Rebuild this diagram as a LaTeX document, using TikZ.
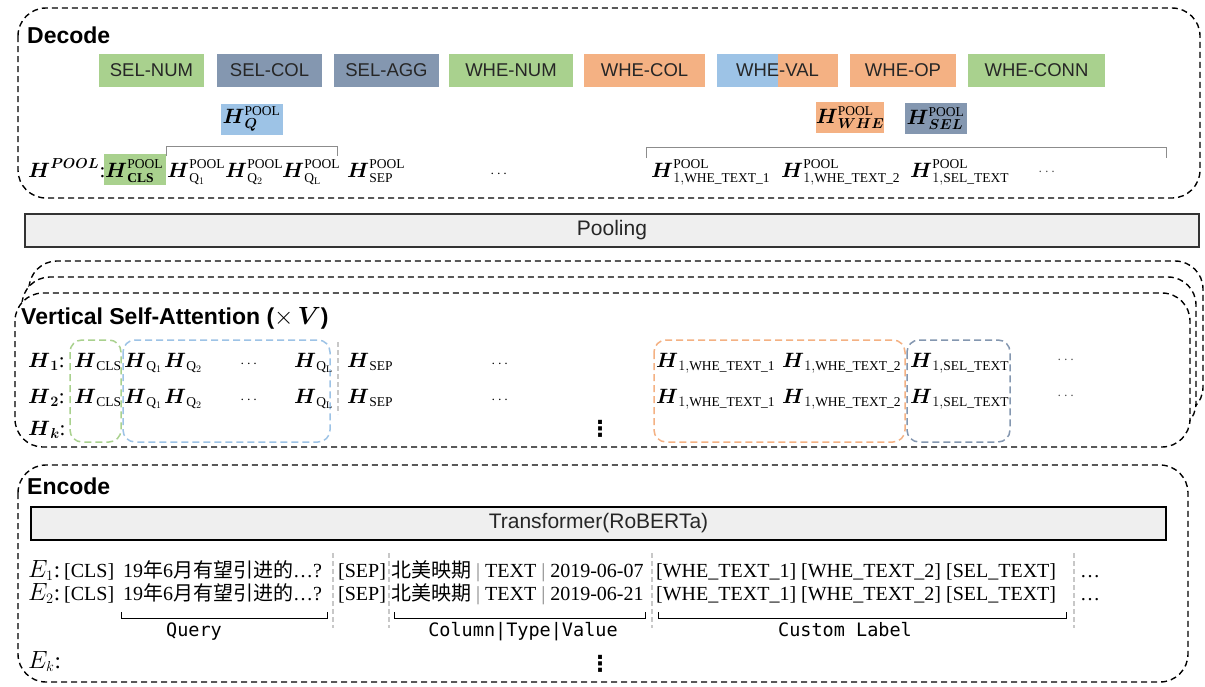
\documentclass[tikz,border=0pt]{standalone}
\usepackage{amsmath}
\usepackage{fontspec}
\setmainfont{Liberation Serif}
\newfontfamily\sansf{Liberation Sans}
\newfontfamily\monof{DejaVu Sans Mono}
\newfontfamily\dejavu{DejaVu Sans}
\newfontfamily\cjkf{Noto Sans CJK SC}
\DeclareMathSizes{21}{21}{13.5}{10}
\DeclareMathSizes{20}{20}{14}{10}
\DeclareMathSizes{23}{23}{15}{11}
\definecolor{grn}{HTML}{A9D18E}
\definecolor{slate}{HTML}{8497B0}
\definecolor{org}{HTML}{F4B183}
\definecolor{lblue}{HTML}{9DC3E6}
\definecolor{sepgray}{HTML}{C8C8C8}
\definecolor{barfill}{HTML}{EFEFEF}
\definecolor{txtdark}{HTML}{262626}
\definecolor{brkgray}{HTML}{8C8C8C}
\newcommand{\myH}{\boldsymbol{H}}
\begin{document}
\begin{tikzpicture}[x=1pt,y=-1pt,
 outerbox/.style={draw=black,line width=1.4pt,dash pattern=on 6pt off 4pt,rounded corners=28pt,fill=white},
 barbox/.style={draw=black!80,line width=1.6pt,fill=barfill,inner sep=0pt,font=\sansf\fontsize{21}{24}\selectfont,text=txtdark},
 seclabel/.style={anchor=west,inner sep=0pt,font=\sansf\bfseries\fontsize{23}{26}\selectfont},
 tag/.style={inner sep=0pt,minimum height=33pt,font=\sansf\fontsize{18.5}{22}\selectfont,text=txtdark},
 poolbox/.style={inner sep=0pt,minimum width=62pt,minimum height=31pt,font=\fontsize{21}{24}\selectfont},
 mtxt/.style={inner sep=0pt,anchor=base west,font=\fontsize{21}{24}\selectfont},
 dotsn/.style={inner sep=0pt,anchor=base,font=\fontsize{14}{16}\selectfont},
 grp/.style={line width=1.5pt,dash pattern=on 7pt off 4pt,rounded corners=12pt},
 sepline/.style={draw=sepgray,line width=1.2pt,dash pattern=on 5pt off 3pt},
 brk/.style={line width=0.9pt},
 etxt/.style={inner sep=0pt,anchor=base west,font=\fontsize{20}{24}\selectfont},
 elbl/.style={inner sep=0pt,anchor=base west,font=\fontsize{23}{26}\selectfont},
 mlabel/.style={inner sep=0pt,anchor=base,font=\monof\fontsize{18.5}{22}\selectfont},
 vdot/.style={inner sep=0pt,font=\dejavu\bfseries\fontsize{22}{24}\selectfont}
]
\useasboundingbox (0,0) rectangle (1205,686);

% ---------------- Decode ----------------
\draw[outerbox] (18,8) rectangle (1200,198);
\node[seclabel] (dec) at (27,35) {Decode};

\node[tag,fill=grn,minimum width=105pt] (selnum) at (151.5,70.5) {SEL-NUM};
\node[tag,fill=slate,minimum width=105pt] (selcol) at (269.5,70.5) {SEL-COL};
\node[tag,fill=slate,minimum width=105pt] (selagg) at (386.5,70.5) {SEL-AGG};
\node[tag,fill=grn,minimum width=124pt] (whenum) at (511,70.5) {WHE-NUM};
\node[tag,fill=org,minimum width=121pt] (whecol) at (644.5,70.5) {WHE-COL};
\fill[lblue] (717,54) rectangle (778,87);
\fill[org] (778,54) rectangle (838,87);
\node[tag,minimum width=121pt] (wheval) at (777.5,70.5) {WHE-VAL};
\node[tag,fill=org,minimum width=106pt] (wheop) at (903,70.5) {WHE-OP};
\node[tag,fill=grn,minimum width=137pt] (wheconn) at (1036.5,70.5) {WHE-CONN};

\node[poolbox,fill=lblue] (hqpool) at (251.5,119) {$\myH^{\mathrm{POOL}}_{\boldsymbol{Q}}$};
\node[poolbox,fill=org] (hwhepool) at (850,117.5) {$\myH^{\mathrm{POOL}}_{\boldsymbol{WHE}}$};
\node[poolbox,fill=slate] (hselpool) at (935.5,118.5) {$\myH^{\mathrm{POOL}}_{\boldsymbol{SEL}}$};

\node[mtxt] (hpool) at (28,177) {$\myH^{\boldsymbol{POOL}}$};
\node[mtxt] (colon0) at (99.5,177) {:};
\fill[grn] (104,154) rectangle (166,185);
\node[mtxt] (hclspool) at (105,177) {$\myH^{\mathrm{POOL}}_{\mathbf{CLS}}$};
\node[mtxt] (hq1pool) at (167,177) {$\myH^{\mathrm{POOL}}_{\mathrm{Q}_1}$};
\node[mtxt] (hq2pool) at (225,177) {$\myH^{\mathrm{POOL}}_{\mathrm{Q}_2}$};
\node[mtxt] (hqlpool) at (282,177) {$\myH^{\mathrm{POOL}}_{\mathrm{Q}_\mathrm{L}}$};
\node[mtxt] (hseppool) at (347,177) {$\myH^{\mathrm{POOL}}_{\mathrm{SEP}}$};
\node[dotsn] (ddots1) at (500,177) {$\cdots$};
\node[mtxt] (hw1pool) at (651,177) {$\myH^{\mathrm{POOL}}_{1,\mathrm{WHE\_TEXT\_1}}$};
\node[mtxt] (hw2pool) at (781,177) {$\myH^{\mathrm{POOL}}_{1,\mathrm{WHE\_TEXT\_2}}$};
\node[mtxt] (hselp) at (910,177) {$\myH^{\mathrm{POOL}}_{1,\mathrm{SEL\_TEXT}}$};
\node[dotsn,text=black!70] (ddots2) at (1048,175) {$\cdots$};
\draw[brk,draw=brkgray] (166,156) -- (166,146) -- (337,146) -- (337,156);
\draw[brk,draw=brkgray] (646,158) -- (646,147) -- (1166,147) -- (1166,158);

% ---------------- Pooling ----------------
\node[barbox,minimum width=1174pt,minimum height=33pt] (pooling) at (612,230.5) {Pooling};

% ---------------- Vertical self-attention ----------------
\draw[outerbox] (29,261) rectangle (1203,415);
\draw[outerbox] (22,277) rectangle (1196,431);
\draw[outerbox] (15,293) rectangle (1190,447);
\node[seclabel] (vsa) at (21,318) {Vertical Self-Attention ($\times\,\boldsymbol{V}$)};

\draw[grp,draw=grn] (70,340) rectangle (121,442);
\draw[grp,draw=lblue] (123,340) rectangle (330,442);
\draw[grp,draw=org] (654,340) rectangle (905,442);
\draw[grp,draw=slate] (907,340) rectangle (1010,442);
\draw[sepline] (338,342) -- (338,414);

\foreach \yy/\lab/\rn in {367/1/a,403/2/b}{
  \node[mtxt] (hl\rn) at (28,\yy) {$\myH_{\boldsymbol{\lab}}$:};
  \node[mtxt] (hcls\rn) at (74,\yy) {$\myH_{\mathrm{CLS}}$};
  \node[mtxt] (hqa\rn) at (124,\yy) {$\myH_{\mathrm{Q}_1}$};
  \node[mtxt] (hqb\rn) at (164,\yy) {$\myH_{\mathrm{Q}_2}$};
  \node[dotsn] (dqa\rn) at (250,\yy) {$\cdots$};
  \node[mtxt] (hql\rn) at (294,\yy) {$\myH_{\mathrm{Q}_\mathrm{L}}$};
  \node[mtxt] (hsep\rn) at (347,\yy) {$\myH_{\mathrm{SEP}}$};
  \node[dotsn] (dqb\rn) at (501,\yy) {$\cdots$};
  \node[mtxt] (hwa\rn) at (656,\yy) {$\myH_{1,\mathrm{WHE\_TEXT\_1}}$};
  \node[mtxt] (hwb\rn) at (782,\yy) {$\myH_{1,\mathrm{WHE\_TEXT\_2}}$};
  \node[mtxt] (hse\rn) at (910,\yy) {$\myH_{1,\mathrm{SEL\_TEXT}}$};
  \node[dotsn,text=black!70] (dqc\rn) at (1067,\yy-4) {$\cdots$};
}
\node[mtxt] (hlk) at (28,435) {$\myH_{\boldsymbol{k}}$:};
\node[vdot] (vd1) at (600,429) {⋮};

% ---------------- Encode ----------------
\draw[outerbox] (18,465) rectangle (1188,682);
\node[seclabel] (enc) at (27,486) {Encode};
\node[barbox,draw=black,line width=2pt,minimum width=1135pt,minimum height=33pt] (trans) at (598.5,523.5) {Transformer(RoBERTa)};

\foreach \yy/\lab/\dt in {577/1/07,600/2/21}{
  \node[elbl] (e\lab) at (28,\yy) {$E_\lab$:};
  \node[etxt] (cls\lab) at (64,\yy) {[CLS]};
  \node[etxt] (qry\lab) at (123,\yy) {19{\cjkf 年}6{\cjkf 月有望引进的}…?};
  \node[etxt] (sep\lab) at (338,\yy) {[SEP]};
  \node[etxt] (col\lab) at (391,\yy) {{\cjkf 北美映期} \textcolor{gray}{|} TEXT \textcolor{gray}{|} 2019-06-\dt};
  \node[etxt] (cust\lab) at (656,\yy) {[WHE\_TEXT\_1] [WHE\_TEXT\_2] [SEL\_TEXT]};
  \node[etxt] (more\lab) at (1080,\yy) {…};
}
\node[elbl] (ek) at (28,668) {$E_k$:};
\node[vdot] (vd2) at (600,664) {⋮};

\foreach \xx in {333,389,652,1074}{
  \draw[sepline] (\xx,553) -- (\xx,628);
}
\draw[brk] (121,612) -- (121,618) -- (327,618) -- (327,612);
\draw[brk] (394,612) -- (394,618) -- (645,618) -- (645,612);
\draw[brk] (658,612) -- (658,618) -- (1066,618) -- (1066,612);
\node[mlabel] (lq) at (194,636) {Query};
\node[mlabel] (lc) at (523,636) {Column|Type|Value};
\node[mlabel] (lcl) at (845,636) {Custom Label};
\end{tikzpicture}
\end{document}
